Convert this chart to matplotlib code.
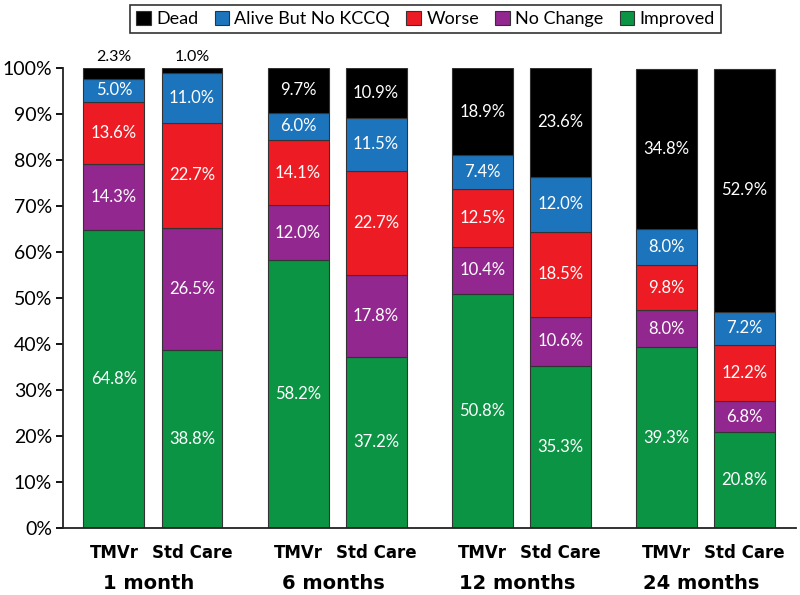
import matplotlib.pyplot as plt
from matplotlib.patches import Patch
import numpy as np

# data (percent of patients)
groups = ["1 month", "6 months", "12 months", "24 months"]
arms = ["TMVr", "Std Care"]
categories = ["Improved", "No Change", "Worse", "Alive But No KCCQ", "Dead"]
colors = ["#0b9444", "#92278f", "#ed1c24", "#1c75bc", "#000000"]

improved = [64.8, 38.8, 58.2, 37.2, 50.8, 35.3, 39.3, 20.8]
no_change = [14.3, 26.5, 12.0, 17.8, 10.4, 10.6, 8.0, 6.8]
worse = [13.6, 22.7, 14.1, 22.7, 12.5, 18.5, 9.8, 12.2]
alive_no_kccq = [5.0, 11.0, 6.0, 11.5, 7.4, 12.0, 8.0, 7.2]
dead = [2.3, 1.0, 9.7, 10.9, 18.9, 23.6, 34.8, 52.9]

series = [improved, no_change, worse, alive_no_kccq, dead]

plt.rcParams['font.family'] = ['Lato', 'DejaVu Sans']

fig = plt.figure(figsize=(8, 5.95), dpi=100)
ax = fig.add_axes([0.079, 0.1126, 0.916, 0.773])

group_step = 2.36
x = np.array([g * group_step + a for g in range(len(groups)) for a in range(len(arms))])
width = 0.78

bottom = np.zeros(len(x))
for vals, col in zip(series, colors):
    vals = np.array(vals)
    ax.bar(x, vals, width, bottom=bottom, color=col, edgecolor="#333333", linewidth=0.8)
    for xi, b, v in zip(x, bottom, vals):
        if v < 3:
            # too thin to hold a label, put it above the bar
            ax.text(xi, 100.8, f"{v:.1f}%", ha="center", va="bottom", fontsize=11.5, color="black")
        else:
            ax.text(xi, b + v / 2, f"{v:.1f}%", ha="center", va="center", fontsize=12, color="white")
    bottom += vals

ax.set_ylim(0, 100)
ax.set_xlim(-0.65, x[-1] + 0.66)
ax.set_yticks(range(0, 101, 10))
ax.set_yticklabels([f"{t}%" for t in range(0, 101, 10)], fontsize=14)
ax.tick_params(axis="y", length=5, width=1.3, direction="out", pad=3)
ax.set_xticks([])
for s in ["top", "right"]:
    ax.spines[s].set_visible(False)
for s in ["left", "bottom"]:
    ax.spines[s].set_linewidth(1.3)
    ax.spines[s].set_color("#222222")

trans = ax.get_xaxis_transform()
for i, xi in enumerate(x):
    ax.text(xi, -0.055, arms[i % 2], transform=trans, ha="center", va="center",
            fontsize=12, fontweight="bold", family="Liberation Sans Narrow")
for g, name in enumerate(groups):
    ax.text(g * group_step + 0.45, -0.12, name, transform=trans, ha="center", va="center",
            fontsize=14, fontweight="bold", family="Liberation Sans Narrow")

handles = [Patch(facecolor=c, edgecolor="#333333", linewidth=0.8, label=l)
           for l, c in zip(categories[::-1], colors[::-1])]
leg = fig.legend(handles=handles, loc="center", bbox_to_anchor=(0.532, 0.968), ncol=5,
                 fontsize=13, frameon=True, fancybox=False, edgecolor="black",
                 handlelength=0.8, handleheight=0.8, handletextpad=0.3, columnspacing=0.9,
                 borderpad=0.35)
leg.get_frame().set_linewidth(1.2)

fig.savefig("out.png", dpi=100)
